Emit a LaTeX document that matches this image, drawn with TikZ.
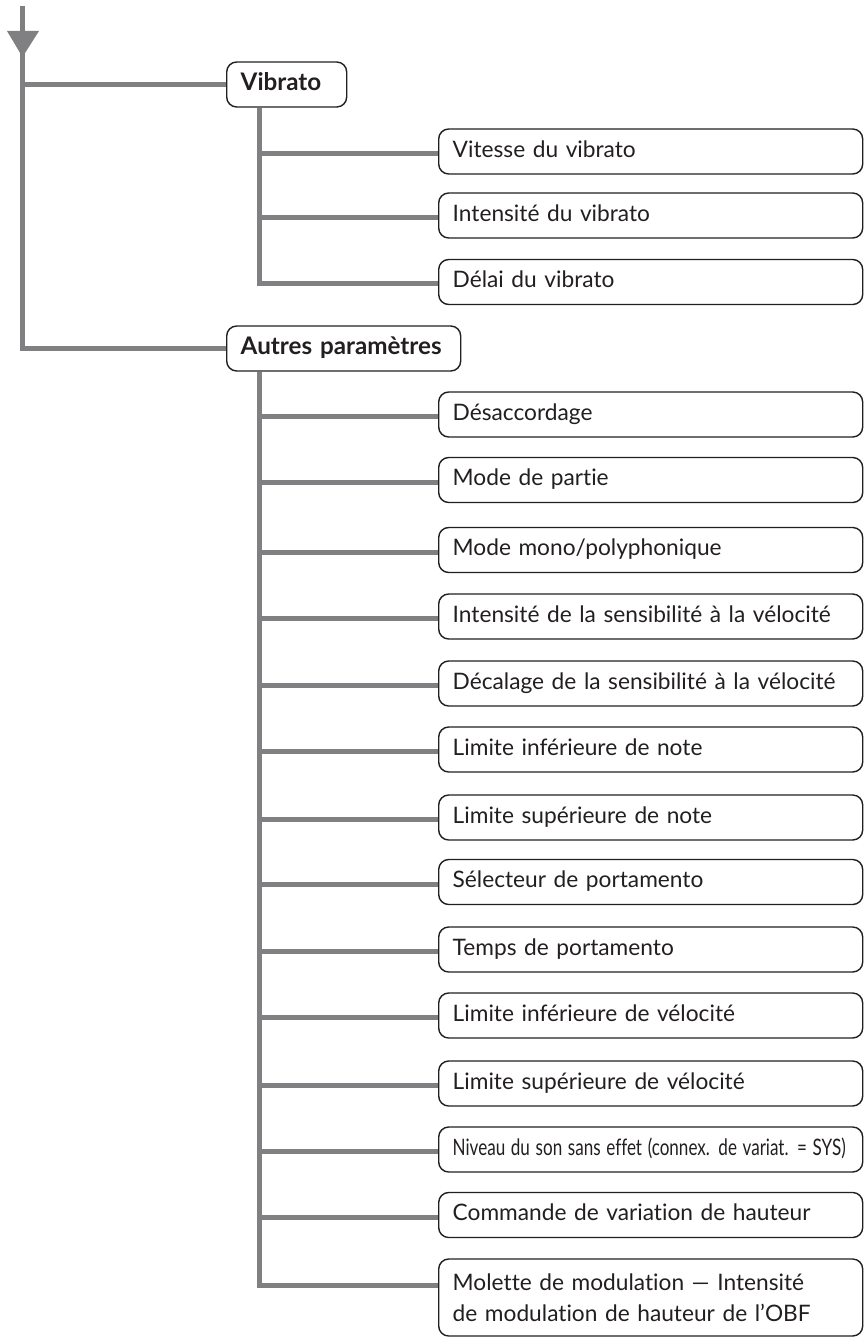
\documentclass[tikz,border=0pt]{standalone}
\usepackage{graphicx}
\usepackage{fontspec}
\setmainfont{Lato}[Ligatures=NoCommon]
\usetikzlibrary{calc}
\definecolor{linegray}{RGB}{128,128,130}
\definecolor{ink}{RGB}{35,31,32}
\begin{document}
\begin{tikzpicture}[x=1pt,y=-1pt,
  conn/.style={draw=linegray, line width=5pt, line join=miter},
  item/.style={draw=ink, line width=1.4pt, rounded corners=10pt, fill=white,
    anchor=west, inner xsep=14pt, inner ysep=0pt, text width=396pt,
    minimum height=45pt, align=left, text=ink,
    font=\fontsize{22.7}{31}\selectfont, text height=16.5pt, text depth=5pt},
  twoline/.style={item, text height=, text depth=, minimum height=77pt},
  head/.style={item, font=\bfseries\fontsize{24.2}{31}\selectfont, text height=17.5pt}]
\useasboundingbox (0,0) rectangle (865,1337);

% top-level heads
\node[head, text width=92pt] (vibrato) at (226,84.5) {Vibrato};
\node[head, text width=206pt] (autres) at (226,348.5) {Autres paramètres};

% vibrato children
\node[item] (vitesse) at (438,151.5) {Vitesse du vibrato};
\node[item] (intvib) at (438,215.5) {Intensité du vibrato};
\node[item] (delai) at (438,282) {Délai du vibrato};

% autres children
\node[item] (desacc) at (438,414.5) {Désaccordage};
\node[item] (partie) at (438,480) {Mode de partie};
\node[item] (mono) at (438,550) {Mode mono/polyphonique};
\node[item] (intsens) at (438,616.5) {Intensité de la sensibilité à la vélocité};
\node[item] (decal) at (438,683.5) {Décalage de la sensibilité à la vélocité};
\node[item] (linfnote) at (438,749.5) {Limite inférieure de note};
\node[item] (lsupnote) at (438,817.5) {Limite supérieure de note};
\node[item] (selport) at (438,882) {Sélecteur de portamento};
\node[item] (tempsport) at (438,949.5) {Temps de portamento};
\node[item] (linfvel) at (438,1015.5) {Limite inférieure de vélocité};
\node[item] (lsupvel) at (438,1083.5) {Limite supérieure de vélocité};
\node[item] (niveau) at (438,1149.5) {\resizebox{393pt}{\height}{Niveau du son sans effet (connex. de variat. = SYS)}};
\node[item] (commande) at (438,1215) {Commande de variation de hauteur};
\node[twoline] (molette) at (438,1297.5) {Molette de modulation — Intensité\\de modulation de hauteur de l’OBF};

% entry arrow and main trunk
\coordinate (top) at (22.5,6);
\draw[conn] (top) |- (autres.west);
\draw[conn] (top |- vibrato.west) -- (vibrato.west);
\fill[linegray] (7,31) -- (39,31) -- (22.5,57) -- cycle;

% vibrato branch
\coordinate (vt) at ($(vibrato.south west)+(33.5,0)$);
\foreach \n in {vitesse,intvib,delai}{
  \path ([yshift=-2pt]\n.west) coordinate (\n-in);
}
\foreach \n in {vitesse,intvib}{
  \draw[conn] (vt |- \n-in) -- (\n-in);
}
\draw[conn] (vt) |- (delai-in);

% autres branch
\coordinate (at) at ($(autres.south west)+(33.5,0)$);
\foreach \n in {desacc,partie,mono,intsens,decal,linfnote,lsupnote,selport,tempsport,linfvel,lsupvel,niveau,commande}{
  \path ([yshift=-2pt]\n.west) coordinate (\n-in);
  \draw[conn] (at |- \n-in) -- (\n-in);
}
\path ([yshift=12.5pt]molette.west) coordinate (molette-in);
\draw[conn] (at) |- (molette-in);
\end{tikzpicture}
\end{document}
